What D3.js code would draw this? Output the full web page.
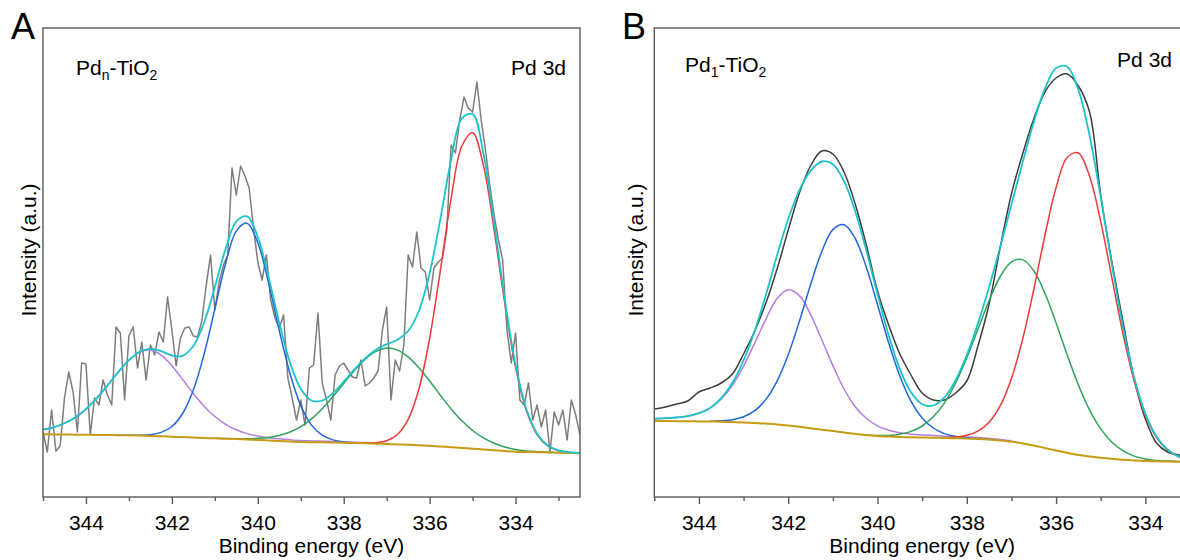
<!DOCTYPE html>
<html>
<head>
<meta charset="utf-8">
<script src="https://cdn.jsdelivr.net/npm/d3@7"></script>
<style>
  html, body { margin: 0; padding: 0; background: #fff; }
  svg { display: block; }
  text { font-family: Arial, "Liberation Sans", sans-serif; fill: #000; }
</style>
</head>
<body>
<svg id="chart" width="1180" height="560"></svg>
<script>
// XPS Pd 3d spectra, two panels (A: Pdn-TiO2, B: Pd1-TiO2)
// intensities in arbitrary units, energies in eV (axis reversed)

const majorTicks = [344, 342, 340, 338, 336, 334];
const minorTicks = [345, 343, 341, 339, 337, 335, 333];

// ---- panel A ----
// raw counts, 0.1 eV steps from 345.0 down to 332.5
const rawAStart = 345, rawAStep = 0.1;
const rawA = [65, 45, 87, 46, 51, 99, 125, 105, 65, 134, 133, 62, 99, 92, 117, 102, 92, 170, 164, 97,
  161, 170, 129, 155, 117, 152, 142, 165, 155, 200, 167, 131, 159, 169, 170, 161, 160, 177, 212, 242,
  187, 215, 232, 242, 329, 302, 331, 321, 309, 269, 235, 217, 242, 197, 179, 169, 182, 119, 99, 77,
  97, 72, 129, 132, 184, 114, 97, 77, 122, 131, 134, 127, 120, 119, 137, 111, 114, 119, 126, 167,
  190, 97, 137, 126, 152, 242, 230, 265, 229, 225, 197, 229, 235, 239, 267, 352, 344, 377, 400, 389,
  385, 415, 377, 347, 312, 282, 257, 237, 167, 134, 164, 97, 92, 114, 77, 92, 70, 87, 45, 85,
  72, 87, 57, 97, 82, 62];

// fitted curves, 0.25 eV steps
const fitStep = 0.25;
const bgA = [62.7, 62.6, 62.5, 62.3, 62.2, 62.1, 62.0, 61.8, 61.7, 61.4, 61.0, 60.7, 60.3, 59.9, 59.5,
  59.1, 58.7, 58.3, 57.9, 57.4, 57.0, 56.5, 56.0, 55.5, 55.0, 54.8, 54.7, 54.5, 54.3, 54.0, 53.7, 53.3,
  53.0, 52.6, 52.2, 51.7, 51.3, 50.5, 49.8, 49.0, 48.3, 47.5, 46.8, 46.0, 45.3, 45.0, 44.8, 44.5, 44.3,
  44.0, 43.7];
const envA = [67.4, 69.7, 73.7, 79.4, 87.9, 98.8, 111.5, 124.8, 136.8, 145.2, 148.2, 145.8, 141.5, 141.2,
  151.0, 174.5, 210.0, 248.1, 275.6, 280.6, 260.0, 220.1, 174.2, 134.5, 108.2, 96.5, 96.5, 104.0, 115.3,
  127.6, 138.7, 147.3, 152.8, 157.3, 166.0, 186.0, 223.8, 278.2, 337.1, 378.6, 382.9, 343.8, 274.5, 197.3,
  132.2, 88.1, 63.3, 51.5, 46.6, 44.8, 44.1];
const purpleAStart = 345;
const purpleA = [67.4, 69.7, 73.7, 79.4, 87.9, 98.8, 111.5, 124.8, 136.7, 144.8, 146.9, 141.9, 131.3,
  117.6, 103.5, 90.8, 80.5, 72.7, 67.2, 63.4, 61.0, 59.3, 58.2, 57.3, 56.5, 56.1, 55.8, 55.5, 55.2, 54.8,
  54.4, 54.0, 53.6];
const blueAStart = 343.5;
const blueA = [62.0, 61.8, 61.8, 61.8, 62.3, 64.6, 70.5, 83.5, 107.0, 142.8, 188.1, 233.5, 265.9, 273.8,
  254.3, 214.2, 166.4, 123.2, 91.4, 71.9, 61.8, 57.1, 55.1, 54.2, 53.7];
const greenAStart = 341;
const greenA = [58.8, 58.5, 58.3, 58.2, 58.7, 59.6, 61.6, 65.0, 70.3, 78.1, 88.3, 100.4, 113.6, 126.6,
  137.8, 145.6, 148.9, 146.9, 140.1, 129.2, 116.0, 101.7, 88.1, 76.2, 66.5, 59.1, 53.8, 50.0, 47.5, 46.1,
  45.3, 44.7, 44.3];
const redAStart = 338;
const redA = [54.3, 54.0, 53.9, 54.3, 56.3, 62.5, 77.6, 108.0, 158.6, 226.6, 298.4, 351.0, 364.3, 331.9,
  267.2, 193.0, 129.7, 86.7, 62.5, 51.0, 46.3, 44.6, 43.9];

// ---- panel B ----
const bgB = [76.0, 75.9, 75.8, 75.7, 75.6, 75.5, 75.3, 74.9, 74.5, 74.0, 73.5, 72.6, 71.5, 70.2, 68.7,
  67.3, 66.0, 64.5, 63.0, 62.0, 61.0, 60.4, 60.0, 59.7, 59.5, 59.3, 59.0, 58.8, 58.6, 58.1, 57.5, 56.6,
  55.4, 53.6, 51.5, 49.0, 46.5, 44.2, 42.1, 40.6, 39.3, 38.2, 37.2, 36.5, 36.0, 35.7, 35.5, 35.3, 35.2];
const rawB = [88, 90, 93, 96, 105, 109, 114, 123, 143, 166, 194, 228, 267, 304, 331, 346, 343, 325, 293,
  252, 206, 172, 143, 122, 104, 97, 97, 104, 116, 151, 193, 250, 303, 343, 378, 405, 419, 423, 411, 385,
  302, 235, 175, 118, 78, 54, 45, 42, 41];
const envB = [78.3, 78.8, 79.5, 80.9, 83.8, 89.1, 98.9, 114.2, 136.6, 166.3, 202.0, 241.7, 278.0, 306.9,
  326.2, 335.5, 332.8, 315.8, 285.8, 246.6, 202.9, 161.7, 127.9, 104.7, 92.8, 91.5, 99.6, 116.8, 141.9,
  173.4, 210.0, 250.2, 292.2, 334.6, 374.8, 408.3, 429.0, 430.2, 407.1, 361.5, 299.9, 232.5, 169.9, 119.4,
  83.3, 60.3, 47.3, 40.4, 37.4];
const purpleBStart = 345;
const purpleB = [78.3, 78.8, 79.5, 80.9, 83.8, 89.0, 98.0, 111.8, 130.9, 154.0, 177.9, 198.4, 207.2,
  201.4, 182.7, 157.5, 131.4, 108.0, 90.3, 78.7, 71.1, 66.7, 64.2, 62.8, 62.1, 61.5, 60.8, 60.4, 60.0,
  59.4, 58.6, 57.6, 56.3];
const blueBStart = 343.75;
const blueB = [75.8, 76.2, 77.3, 80.2, 86.3, 97.6, 115.9, 142.3, 175.7, 212.2, 245.3, 267.4, 272.3, 258.5,
  229.8, 192.3, 154.2, 121.0, 95.9, 79.1, 69.0, 63.4, 60.6, 59.3, 58.3, 57.5];
const greenBStart = 340.25;
const greenB = [62.1, 61.5, 61.6, 62.8, 65.6, 71.0, 80.2, 94.2, 114.0, 139.3, 167.8, 196.5, 220.5, 235.2,
  237.4, 226.3, 203.8, 174.1, 142.1, 112.0, 87.1, 68.1, 54.7, 46.1, 40.9, 38.0, 36.6, 35.9, 35.4, 35.2];
const redBStart = 338.5;
const redB = [59.4, 60.0, 61.8, 65.9, 74.8, 91.3, 118.5, 157.6, 207.5, 261.5, 309.4, 339.8, 344.0, 320.7,
  275.4, 219.1, 163.0, 116.0, 81.7, 59.5, 46.8, 40.2, 37.1];

const colors = {
    raw: '#7d7d7d', rawDark: '#3d3d3d', env: '#1cc3c8', bg: '#c99a14',
    purple: '#b07fe0', blue: '#2167dc', green: '#2fa35c', red: '#ee3a37', frame: '#5a5a5a'
};

const svg = d3.select('#chart');

function pairs(start, step, values) {
    return values.map((v, i) => [start - i * step, v]);
}

function drawPanel(p) {
    const x = d3.scaleLinear().domain(p.domain).range([p.left, p.right]);
    const y = d3.scaleLinear().domain([0, 469]).range([p.bottom, p.top]);
    const g = svg.append('g');

    g.append('clipPath').attr('id', 'clip-' + p.id)
        .append('rect')
        .attr('x', p.left).attr('y', p.top)
        .attr('width', p.right - p.left).attr('height', p.bottom - p.top);

    const smooth = d3.line().x(d => x(d[0])).y(d => y(d[1])).curve(d3.curveCatmullRom.alpha(0.5));
    const straight = d3.line().x(d => x(d[0])).y(d => y(d[1]));

    const plot = g.append('g').attr('clip-path', `url(#clip-${p.id})`);
    p.series.forEach(s => {
        plot.append('path')
            .datum(s.points)
            .attr('fill', 'none')
            .attr('stroke', s.color)
            .attr('stroke-width', s.width || 1.5)
            .attr('stroke-linejoin', 'round')
            .attr('d', s.linear ? straight : smooth);
    });

    // frame
    g.append('rect')
        .attr('x', p.left).attr('y', p.top)
        .attr('width', p.right - p.left).attr('height', p.bottom - p.top)
        .attr('fill', 'none').attr('stroke', colors.frame).attr('stroke-width', 1.4);

    // bottom axis: major ticks with labels, minor ticks without
    const major = g.append('g').attr('transform', `translate(0,${p.bottom})`)
        .call(d3.axisBottom(x).tickValues(majorTicks).tickSize(7).tickFormat(d3.format('d')));
    const minor = g.append('g').attr('transform', `translate(0,${p.bottom})`)
        .call(d3.axisBottom(x).tickValues(minorTicks).tickSize(4).tickFormat(''));
    [major, minor].forEach(a => {
        a.select('.domain').remove();
        a.selectAll('line').attr('stroke', colors.frame).attr('stroke-width', 1.4);
    });
    major.selectAll('text')
        .attr('y', 33).attr('dy', null)
        .attr('font-size', 21)
        .attr('font-family', 'Arial, "Liberation Sans", sans-serif')
        .attr('fill', '#000');

    g.append('text')
        .attr('x', (p.left + p.right) / 2).attr('y', 553)
        .attr('text-anchor', 'middle').attr('font-size', 21)
        .text('Binding energy (eV)');

    g.append('text')
        .attr('transform', `translate(${p.yTitleX},250) rotate(-90)`)
        .attr('text-anchor', 'middle').attr('font-size', 21)
        .text('Intensity (a.u.)');

    g.append('text')
        .attr('x', p.letterX).attr('y', 39)
        .attr('font-size', 36)
        .text(p.letter);

    const sample = g.append('text')
        .attr('x', p.sampleX).attr('y', p.sampleY)
        .attr('font-size', 21);
    sample.append('tspan').text('Pd');
    sample.append('tspan').attr('font-size', 14).attr('dy', 5).text(p.sub);
    sample.append('tspan').attr('dy', -5).text('-TiO');
    sample.append('tspan').attr('font-size', 14).attr('dy', 5).text('2');

    g.append('text')
        .attr('x', p.coreX).attr('y', p.coreY)
        .attr('text-anchor', 'end').attr('font-size', 21)
        .text('Pd 3d');
}

drawPanel({
    id: 'A', letter: 'A', sub: 'n',
    domain: [345, 332.5], left: 43, right: 580, top: 28, bottom: 497,
    yTitleX: 36, letterX: 11, sampleX: 76, sampleY: 75, coreX: 566, coreY: 75,
    series: [
        { points: pairs(rawAStart, rawAStep, rawA), color: colors.raw, linear: true, width: 1.5 },
        { points: pairs(purpleAStart, fitStep, purpleA), color: colors.purple },
        { points: pairs(blueAStart, fitStep, blueA), color: colors.blue },
        { points: pairs(greenAStart, fitStep, greenA), color: colors.green },
        { points: pairs(redAStart, fitStep, redA), color: colors.red },
        { points: pairs(345, fitStep, bgA), color: colors.bg, width: 2 },
        { points: pairs(345, fitStep, envA), color: colors.env, width: 1.8 }
    ]
});

drawPanel({
    id: 'B', letter: 'B', sub: '1',
    domain: [345, 333], left: 654.3, right: 1190, top: 28, bottom: 497,
    yTitleX: 643, letterX: 622, sampleX: 685, sampleY: 72, coreX: 1172, coreY: 67,
    series: [
        { points: pairs(345, fitStep, rawB), color: colors.rawDark, width: 1.5 },
        { points: pairs(purpleBStart, fitStep, purpleB), color: colors.purple },
        { points: pairs(blueBStart, fitStep, blueB), color: colors.blue },
        { points: pairs(greenBStart, fitStep, greenB), color: colors.green },
        { points: pairs(redBStart, fitStep, redB), color: colors.red },
        { points: pairs(345, fitStep, bgB), color: colors.bg, width: 2 },
        { points: pairs(345, fitStep, envB), color: colors.env, width: 1.8 }
    ]
});
</script>
</body>
</html>
